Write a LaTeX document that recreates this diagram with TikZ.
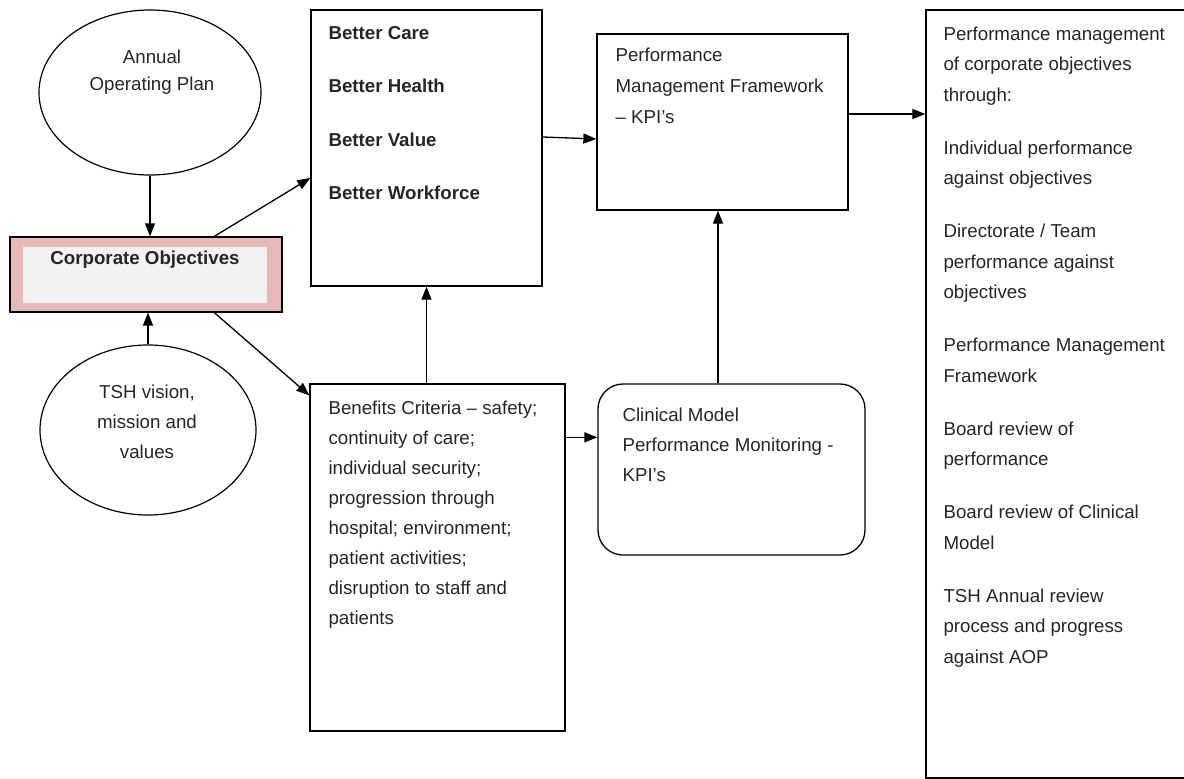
\documentclass[tikz,border=0pt]{standalone}
\usepackage{fontspec}
\setmainfont{Liberation Sans}
\usetikzlibrary{shapes.geometric,arrows.meta,calc}
\definecolor{corppink}{HTML}{E6B9B8}
\definecolor{corpgray}{HTML}{F2F2F2}
\definecolor{txt}{HTML}{262626}
\newcommand{\fs}[1]{\fontsize{18.7pt}{#1}\selectfont}
\begin{document}
\begin{tikzpicture}[x=1pt,y=-1pt,
  box/.style={draw, line width=1.3pt, rectangle, inner sep=0pt},
  oval/.style={draw, line width=1.2pt, ellipse, inner sep=0pt},
  txtblock/.style={anchor=base west, align=left, inner sep=0pt, text=txt},
  ctxt/.style={anchor=base, align=center, inner sep=0pt, text=txt},
  arr/.style={line width=1.3pt, -{Triangle[length=13pt,width=10pt]}}]
\clip (0,0) rectangle (1184,779);
\fill[white] (0,0) rectangle (1184,779);

% shapes
\node[oval, minimum width=222pt, minimum height=165pt] (aop) at (150,92.5) {};
\node[oval, minimum width=216pt, minimum height=170pt] (tsh) at (148,430) {};
\node[box, fill=corppink, minimum width=272pt, minimum height=75pt] (corp) at (146,274.5) {};
\node[fill=corpgray, inner sep=0pt, minimum width=244pt, minimum height=56pt] (corpin) at (145,275) {};
\node[box, minimum width=231pt, minimum height=276pt] (better) at (426.5,148) {};
\node[box, minimum width=251pt, minimum height=176pt] (pmf) at (722.5,122) {};
\node[box, minimum width=274pt, minimum height=768pt] (right) at (1063,394) {};
\node[box, minimum width=255pt, minimum height=347pt] (benefits) at (437.5,557.5) {};
\node[box, rounded corners=25pt, minimum width=267pt, minimum height=171pt] (clinical) at (731.5,469.5) {};

% texts (anchor = baseline of the last line)
\node[ctxt, font=\fs{27pt}] (aoptext) at ($(aop.center)+(2,-2.5)$) {Annual\\Operating Plan};
\node[ctxt, font=\fs{30pt}] (tshtext) at ($(tsh.center)+(-1,28)$) {TSH vision,\\mission and\\values};
\node[ctxt, font=\fs{30pt}\bfseries] (corptext) at ($(corp.north)+(-1,28)$) {Corporate Objectives};
\node[txtblock, font=\fs{53.5pt}\bfseries] (bettertext) at ($(better.north west)+(18,190.5)$)
  {Better Care\\Better Health\\Better Value\\Better Workforce};
\node[txtblock, font=\fs{31pt}] (pmftext) at ($(pmf.north west)+(19,90)$)
  {Performance\\Management Framework\\– KPI’s};
\node[txtblock, font=\fs{30pt}] (bentext) at ($(benefits.north west)+(19,241)$)
  {Benefits Criteria – safety;\\continuity of care;\\individual security;\\progression through\\hospital; environment;\\patient activities;\\disruption to staff and\\patients};
\node[txtblock, font=\fs{30pt}] (clintext) at ($(clinical.north west)+(25,98)$)
  {Clinical Model\\Performance Monitoring -\\KPI’s};
\node[txtblock, font=\fs{30.5pt}] (righttext) at ($(right.north west)+(18,654)$)
  {Performance management\\of corporate objectives\\through:\\[22.5pt]
   Individual performance\\against objectives\\[22.5pt]
   Directorate / Team\\performance against\\objectives\\[22.5pt]
   Performance Management\\Framework\\[22.5pt]
   Board review of\\performance\\[22.5pt]
   Board review of Clinical\\Model\\[22.5pt]
   TSH Annual review\\process and progress\\against AOP};

% connectors
\draw[arr] (aop.south) -- (aop.south |- corp.north);
\draw[arr] (tsh.north) -- (tsh.north |- corp.south);
\draw[arr] ($(corp.north west)+(205,0)$) -- ($(better.west)+(0,30)$);
\draw[arr] ($(corp.south west)+(205,0)$) -- ($(benefits.north west)+(0,12)$);
\draw[arr] ($(better.east)+(0,-11)$) -- ($(pmf.west)+(0,17)$);
\draw[arr] (benefits.north -| better.south) -- (better.south);
\draw[arr] ($(benefits.north east)+(0,54)$) -- ($(clinical.north west)+(0,54)$);
\path ($(pmf.south)+(-4.5,0)$) coordinate (pmfin);
\draw[arr] (clinical.north -| pmfin) -- (pmfin);
\path ($(pmf.east)+(0,-8)$) coordinate (pmfout);
\draw[arr] (pmfout) -- (pmfout -| right.west);
\end{tikzpicture}
\end{document}
